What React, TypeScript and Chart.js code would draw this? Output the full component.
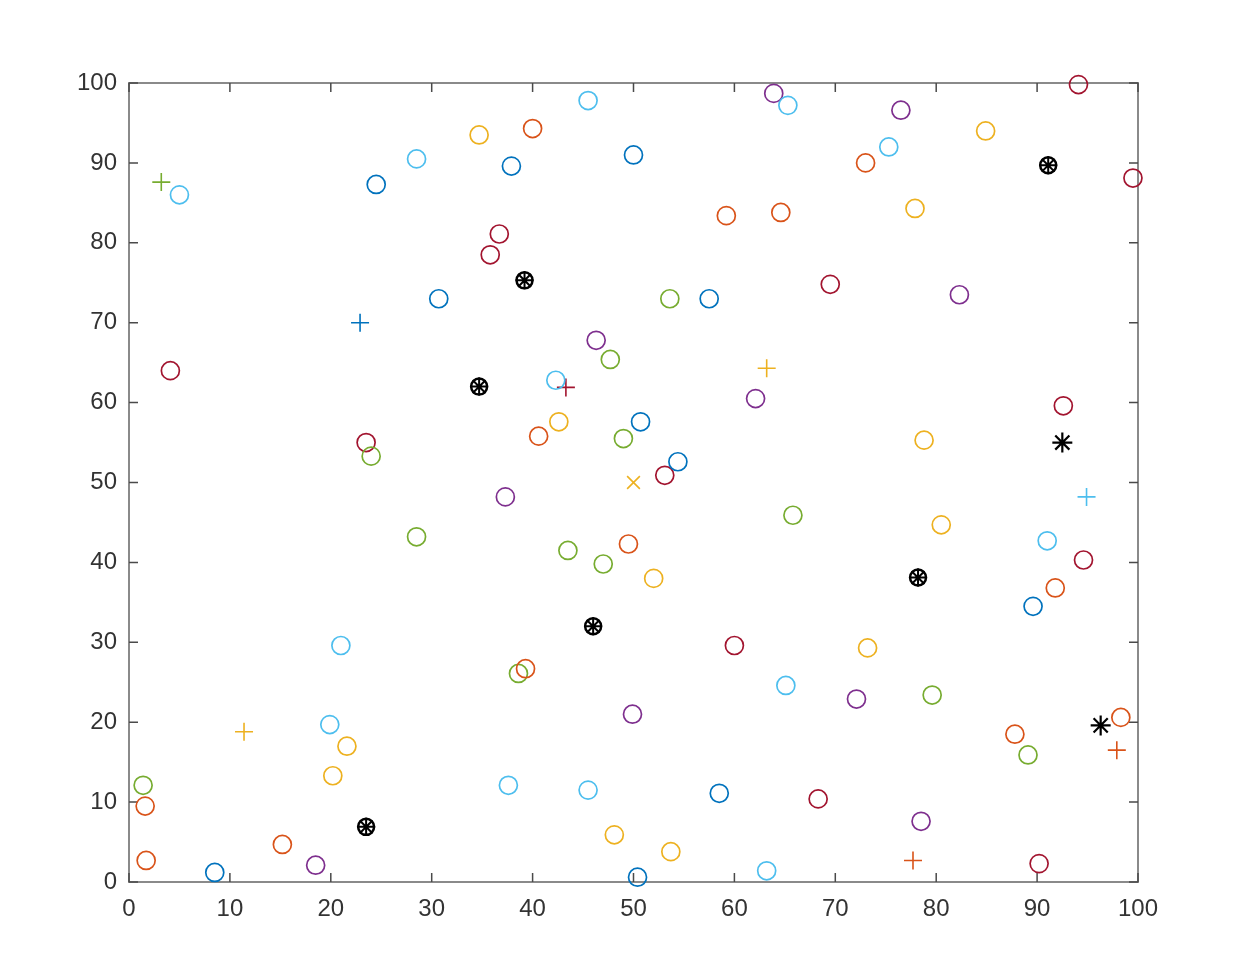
import React, { useEffect, useRef } from "react";
import { Chart, registerables } from "chart.js";
Chart.register(...registerables);

const xTicks = [0, 10, 20, 30, 40, 50, 60, 70, 80, 90, 100];
const yTicks = [0, 10, 20, 30, 40, 50, 60, 70, 80, 90, 100];

// circles by colour
const blueX = [8.5, 24.5, 30.7, 37.9, 50, 57.5, 50.7, 54.4, 58.5, 50.4, 89.6];
const blueY = [1.2, 87.3, 73, 89.6, 91, 73, 57.6, 52.6, 11.1, 0.6, 34.5];

const lightBlueX = [5, 28.5, 45.5, 65.3, 75.3, 42.3, 21, 19.9, 37.6, 45.5, 65.1, 63.2, 91];
const lightBlueY = [86, 90.5, 97.8, 97.2, 92, 62.8, 29.6, 19.7, 12.1, 11.5, 24.6, 1.4, 42.7];

const orangeX = [40, 59.2, 64.6, 73, 40.6, 49.5, 39.3, 1.6, 1.7, 15.2, 91.8, 87.8, 98.3];
const orangeY = [94.3, 83.4, 83.8, 90, 55.8, 42.3, 26.7, 9.5, 2.7, 4.7, 36.8, 18.5, 20.6];

const yellowX = [34.7, 42.6, 52, 84.9, 77.9, 78.8, 80.5, 73.2, 21.6, 20.2, 48.1, 53.7];
const yellowY = [93.5, 57.6, 38, 94, 84.3, 55.3, 44.7, 29.3, 17, 13.3, 5.9, 3.8];

const purpleX = [63.9, 76.5, 82.3, 46.3, 62.1, 37.3, 49.9, 72.1, 78.5, 18.5];
const purpleY = [98.7, 96.6, 73.5, 67.8, 60.5, 48.2, 21, 22.9, 7.6, 2.1];

const greenX = [53.6, 47.7, 49, 24, 28.5, 43.5, 47, 38.6, 65.8, 79.6, 89.1, 1.4];
const greenY = [73, 65.4, 55.5, 53.3, 43.2, 41.5, 39.8, 26.1, 45.9, 23.4, 15.9, 12.1];

const redX = [94.1, 99.5, 36.7, 35.8, 69.5, 4.1, 23.5, 53.1, 92.6, 94.6, 60, 68.3, 90.2];
const redY = [99.8, 88.1, 81.1, 78.5, 74.8, 64, 55, 50.9, 59.6, 40.3, 29.6, 10.4, 2.3];

// plus markers
const plusX = [3.2, 22.9, 43.3, 63.2, 94.9, 11.4, 77.7, 97.9];
const plusY = [87.6, 70, 61.9, 64.3, 48.2, 18.8, 2.7, 16.5];
const plusColors = ["#77AC30", "#0072BD", "#A2142F", "#EDB120", "#4DBEEE", "#EDB120", "#D95319", "#D95319"];

// x marker
const xMarkX = [50];
const xMarkY = [50];

// asterisks with circle
const circStarX = [39.2, 34.7, 46, 78.2, 91.1, 23.5];
const circStarY = [75.3, 62, 32, 38.1, 89.7, 6.9];

// plain asterisks
const starX = [92.5, 96.3];
const starY = [55, 19.6];

const toPts = (xs: number[], ys: number[]) => xs.map((x, i) => ({ x, y: ys[i] }));

const circleSet = (xs: number[], ys: number[], color: string) => ({
  data: toPts(xs, ys),
  pointStyle: "circle",
  pointRadius: 9,
  pointBorderWidth: 1.7,
  pointBorderColor: color,
  pointBackgroundColor: "rgba(0,0,0,0)",
  showLine: false,
  clip: false as any,
});

const framePlugin = {
  id: "frame",
  beforeDatasetsDraw(chart: any) {
    const { ctx, chartArea, scales } = chart;
    const { left, right, top, bottom } = chartArea;
    ctx.save();
    ctx.strokeStyle = "#8a8a8a";
    ctx.lineWidth = 2;
    ctx.strokeRect(left, top, right - left, bottom - top);
    ctx.strokeStyle = "#4a4a4a";
    ctx.lineWidth = 1.5;
    const tl = 9;
    ctx.beginPath();
    xTicks.forEach((v) => {
      const px = scales.x.getPixelForValue(v);
      ctx.moveTo(px, bottom);
      ctx.lineTo(px, bottom - tl);
      ctx.moveTo(px, top);
      ctx.lineTo(px, top + tl);
    });
    yTicks.forEach((v) => {
      const py = scales.y.getPixelForValue(v);
      ctx.moveTo(left, py);
      ctx.lineTo(left + tl, py);
      ctx.moveTo(right, py);
      ctx.lineTo(right - tl, py);
    });
    ctx.stroke();
    ctx.restore();
  },
};

export default function App() {
  const ref = useRef<HTMLCanvasElement | null>(null);
  useEffect(() => {
    if (!ref.current) return;
    const font = { family: "'Liberation Sans', Arial, sans-serif", size: 24 };
    const chart = new Chart(ref.current, {
      type: "scatter",
      data: {
        datasets: [
          circleSet(blueX, blueY, "#0072BD"),
          circleSet(lightBlueX, lightBlueY, "#4DBEEE"),
          circleSet(orangeX, orangeY, "#D95319"),
          circleSet(yellowX, yellowY, "#EDB120"),
          circleSet(purpleX, purpleY, "#7E2F8E"),
          circleSet(greenX, greenY, "#77AC30"),
          circleSet(redX, redY, "#A2142F"),
          {
            data: toPts(plusX, plusY),
            pointStyle: "cross",
            pointRadius: 9,
            pointBorderWidth: 1.6,
            pointBorderColor: plusColors,
            clip: false as any,
          },
          {
            data: toPts(xMarkX, xMarkY),
            pointStyle: "crossRot",
            pointRadius: 9,
            pointBorderWidth: 1.6,
            pointBorderColor: "#EDB120",
            clip: false as any,
          },
          {
            data: toPts(circStarX, circStarY),
            pointStyle: "circle",
            pointRadius: 8,
            pointBorderWidth: 2.5,
            pointBorderColor: "#000000",
            pointBackgroundColor: "rgba(0,0,0,0)",
            clip: false as any,
          },
          {
            data: toPts(circStarX, circStarY),
            pointStyle: "star",
            pointRadius: 9,
            pointBorderWidth: 2,
            pointBorderColor: "#000000",
            clip: false as any,
          },
          {
            data: toPts(starX, starY),
            pointStyle: "star",
            pointRadius: 10,
            pointBorderWidth: 2.2,
            pointBorderColor: "#000000",
            clip: false as any,
          },
        ] as any,
      },
      options: {
        animation: false,
        responsive: false,
        events: [],
        layout: { padding: { top: 83, right: 98, left: 0, bottom: 0 } },
        plugins: { legend: { display: false }, tooltip: { enabled: false } },
        scales: {
          x: {
            type: "linear",
            min: 0,
            max: 100,
            afterFit: (s: any) => {
              s.height = 94;
            },
            afterBuildTicks: (s: any) => {
              s.ticks = xTicks.map((v) => ({ value: v }));
            },
            grid: { display: false, drawTicks: false },
            border: { display: false },
            ticks: { color: "#333333", font, padding: 13, maxRotation: 0 },
          },
          y: {
            type: "linear",
            min: 0,
            max: 100,
            afterFit: (s: any) => {
              s.width = 129;
            },
            afterBuildTicks: (s: any) => {
              s.ticks = yTicks.map((v) => ({ value: v }));
            },
            grid: { display: false, drawTicks: false },
            border: { display: false },
            ticks: { color: "#333333", font, padding: 12 },
          },
        },
      } as any,
      plugins: [framePlugin],
    });
    return () => chart.destroy();
  }, []);
  return (
    <div style={{ position: "absolute", left: 0, top: 0, width: 1236, height: 976, background: "#fff" }}>
      <canvas ref={ref} width={1236} height={976} style={{ display: "block" }} />
    </div>
  );
}
